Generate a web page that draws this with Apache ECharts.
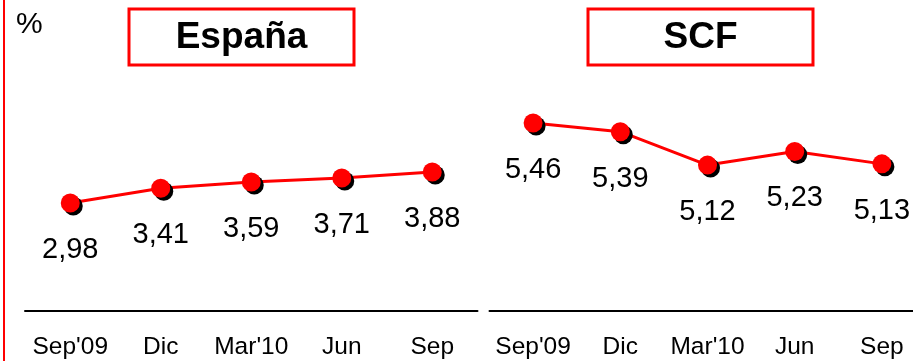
<!DOCTYPE html>
<html>
<head>
<meta charset="utf-8">
<script src="https://cdn.jsdelivr.net/npm/echarts@6/dist/echarts.min.js"></script>
<style>
html,body{margin:0;padding:0;background:#fff;overflow:hidden;width:913px;height:361px;}
#c{width:930px;height:361px;}
</style>
</head>
<body>
<div id="c"></div>
<script>
var categories = ["Sep'09", "Dic", "Mar'10", "Jun", "Sep"];
var espanaValues = [2.98, 3.41, 3.59, 3.71, 3.88];
var scfValues = [5.46, 5.39, 5.12, 5.23, 5.13];
var panelTitles = ["España", "SCF"];
var unitLabel = "%";

var FONT = "'Liberation Sans', Arial, sans-serif";
var chart = echarts.init(document.getElementById('c'));

function fmt(p){ return p.value.toFixed(2).replace('.', ','); }

function xAxisFor(idx){
  return {
    type: 'category', gridIndex: idx, data: categories, boundaryGap: true,
    axisLine: {show: true, onZero: false, lineStyle: {color: '#000', width: 2}},
    axisTick: {show: false},
    axisLabel: {color: '#000', fontSize: 24.5, fontFamily: FONT, margin: 24, interval: 0}
  };
}
function yAxisFor(idx, mn, mx){
  return {
    type: 'value', gridIndex: idx, min: mn, max: mx,
    show: false, splitLine: {show: false}
  };
}
function seriesFor(idx, data){
  return {
    type: 'line', xAxisIndex: idx, yAxisIndex: idx, data: data,
    symbol: 'circle', symbolSize: 19, showSymbol: true,
    lineStyle: {color: '#ff0000', width: 3},
    itemStyle: {color: '#ff0000', shadowColor: '#000', shadowOffsetX: 3, shadowOffsetY: 3, shadowBlur: 0},
    label: {show: true, position: 'bottom', distance: 23, color: '#000', fontSize: 29, fontFamily: FONT, formatter: fmt},
    animation: false
  };
}

chart.setOption({
  animation: false,
  grid: [
    {left: 25, width: 452.5, top: 60, bottom: 50},
    {left: 489.5, width: 436, top: 60, bottom: 50}
  ],
  xAxis: [xAxisFor(0), xAxisFor(1)],
  yAxis: [yAxisFor(0, -0.16, 7.14), yAxisFor(1, 3.94, 5.97)],
  series: [seriesFor(0, espanaValues), seriesFor(1, scfValues)],
  graphic: [
    {type: 'line', shape: {x1: 4, y1: 0, x2: 4, y2: 361}, style: {stroke: '#ff0000', lineWidth: 2}},
    {type: 'text', left: 16, top: 10, style: {text: unitLabel, fill: '#000', font: '30px ' + FONT}},
    {type: 'rect', shape: {x: 129, y: 9, width: 225, height: 56}, style: {fill: '#fff', stroke: '#ff0000', lineWidth: 3}},
    {type: 'text', x: 241.5, y: 38, style: {text: panelTitles[0], fill: '#000', font: 'bold 37px ' + FONT, textAlign: 'center', textVerticalAlign: 'middle'}},
    {type: 'rect', shape: {x: 588, y: 9, width: 225, height: 56}, style: {fill: '#fff', stroke: '#ff0000', lineWidth: 3}},
    {type: 'text', x: 700.5, y: 38, style: {text: panelTitles[1], fill: '#000', font: 'bold 37px ' + FONT, textAlign: 'center', textVerticalAlign: 'middle'}}
  ]
});
</script>
</body>
</html>
